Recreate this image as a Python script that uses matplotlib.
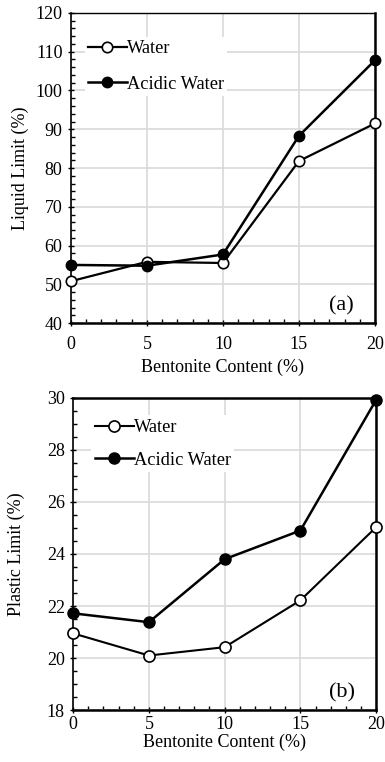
import matplotlib
matplotlib.use('Agg')
import matplotlib.pyplot as plt
from matplotlib.ticker import MultipleLocator

plt.rcParams['font.family'] = ['Liberation Serif', 'DejaVu Serif']

bentonite = [0, 5, 10, 15, 20]
ll_water = [50.8, 55.8, 55.5, 81.8, 91.5]
ll_acidic = [55.0, 54.8, 57.7, 88.3, 107.8]
pl_water = [20.95, 20.1, 20.42, 22.22, 25.03]
pl_acidic = [21.72, 21.38, 23.8, 24.9, 29.92]

fig = plt.figure(figsize=(3.85, 7.62), dpi=100)
ax1 = fig.add_axes([0.184, 0.576, 0.79, 0.407])
ax2 = fig.add_axes([0.19, 0.068, 0.787, 0.41])


def style(ax, ylim, ymaj, ymin, label, tag, ylab_x, leg_xy, lspace, xpad, xlpad):
    ax.set_xlim(0, 20)
    ax.set_ylim(*ylim)
    ax.xaxis.set_major_locator(MultipleLocator(5))
    ax.xaxis.set_minor_locator(MultipleLocator(1))
    ax.yaxis.set_major_locator(MultipleLocator(ymaj))
    ax.yaxis.set_minor_locator(MultipleLocator(ymin))
    ax.grid(True, which='major', color='#d9d9d9', linewidth=1.2, zorder=0)
    ax.set_axisbelow(True)
    ax.tick_params(which='major', direction='inout', length=5, width=1, labelsize=13)
    ax.tick_params(which='minor', direction='in', length=3, width=1)
    ax.tick_params(axis='x', pad=xpad)
    for s in ax.spines.values():
        s.set_color('black')
    ax.spines['left'].set_linewidth(1.2)
    ax.spines['bottom'].set_linewidth(1.8)
    ax.spines['right'].set_linewidth(1.8)
    ax.set_xlabel('Bentonite Content (%)', fontsize=13, labelpad=xlpad)
    ax.set_ylabel(label, fontsize=13)
    ax.yaxis.set_label_coords(ylab_x, 0.5)
    ax.text(0.93, 0.025, tag, transform=ax.transAxes, ha='right', va='bottom', fontsize=16)
    ax.legend(loc='upper left', bbox_to_anchor=leg_xy, frameon=True,
              fancybox=False, edgecolor='none', framealpha=1,
              fontsize=13.2, handlelength=2.1, handletextpad=0.0,
              labelspacing=lspace, borderpad=0.2)


ax1.plot(bentonite, ll_water, color='black', linewidth=1.6, marker='o', markersize=7.5,
         markerfacecolor='white', markeredgecolor='black', markeredgewidth=1.2,
         label='Water', clip_on=False, zorder=3)
ax1.plot(bentonite, ll_acidic, color='black', linewidth=1.8, marker='o', markersize=7.5,
         markerfacecolor='black', label='Acidic Water', clip_on=False, zorder=3)
style(ax1, (40, 120), 10, 2, 'Liquid Limit (%)', '(a)', -0.139, (0.015, 0.953), 1.0, 7, 4)
ax1.spines['top'].set_linewidth(1.0)

ax2.plot(bentonite, pl_water, color='black', linewidth=1.5, marker='o', markersize=8,
         markerfacecolor='white', markeredgecolor='black', markeredgewidth=1.2,
         label='Water', clip_on=False, zorder=3)
ax2.plot(bentonite, pl_acidic, color='black', linewidth=1.8, marker='o', markersize=8,
         markerfacecolor='black', label='Acidic Water', clip_on=False, zorder=3)
style(ax2, (18, 30), 2, 0.5, 'Plastic Limit (%)', '(b)', -0.159, (0.03, 0.973), 0.85, 1.5, 1)
ax2.spines['top'].set_linewidth(1.8)

fig.savefig('out.png', dpi=100)
